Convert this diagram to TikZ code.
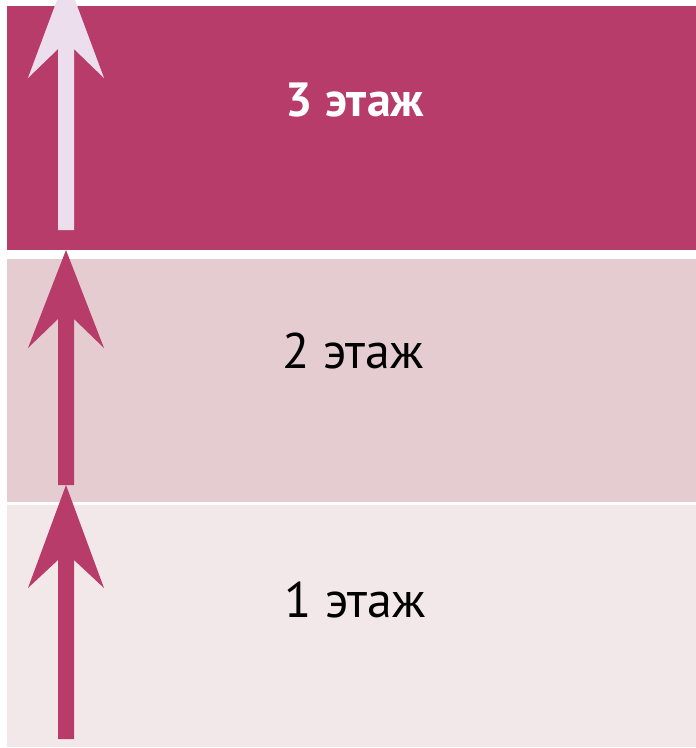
\documentclass[tikz,border=0pt]{standalone}
\usepackage{fontspec}
\setmainfont{PT Sans}
\definecolor{deeprose}{HTML}{B83C69}
\definecolor{midrose}{HTML}{E5CCD1}
\definecolor{paleroseb}{HTML}{F2E8EA}
\definecolor{lilacarrow}{HTML}{EDDEEE}
\tikzset{
  floorband/.style={fill=#1, draw=none},
  floorlabel/.style={font=\fontsize{50}{56}\selectfont, inner sep=0pt},
  uparrow/.style={fill=#1, draw=none}
}
% draws an up arrow: colour, tip y, wing y, notch y, bottom y
\newcommand\liftarrow[5]{%
  \fill[uparrow=#1] (66,#2) -- (104,#3) -- (74,#4) -- (74,#5) -- (58,#5) -- (58,#4) -- (28,#3) -- cycle;}
\begin{document}
\begin{tikzpicture}[x=1pt,y=-1pt]
  \clip (0,0) rectangle (696,748);
  \fill[white] (0,0) rectangle (696,748);
  % floors
  \fill[floorband=deeprose] (7,6) rectangle (696,250);
  \fill[floorband=midrose] (7,259) rectangle (696,502);
  \fill[floorband=paleroseb] (7,505) rectangle (696,747);
  \node[floorlabel, text=white, font=\fontsize{48}{54}\selectfont\bfseries] (f3) at (355,100) {3 этаж};
  \node[floorlabel] (f2) at (353,351) {2 этаж};
  \node[floorlabel] (f1) at (355,600) {1 этаж};
  % arrows
  \liftarrow{lilacarrow}{-24}{78}{49}{230}
  \liftarrow{deeprose}{250}{348}{319}{485}
  \liftarrow{deeprose}{485}{588}{560}{739}
\end{tikzpicture}
\end{document}
